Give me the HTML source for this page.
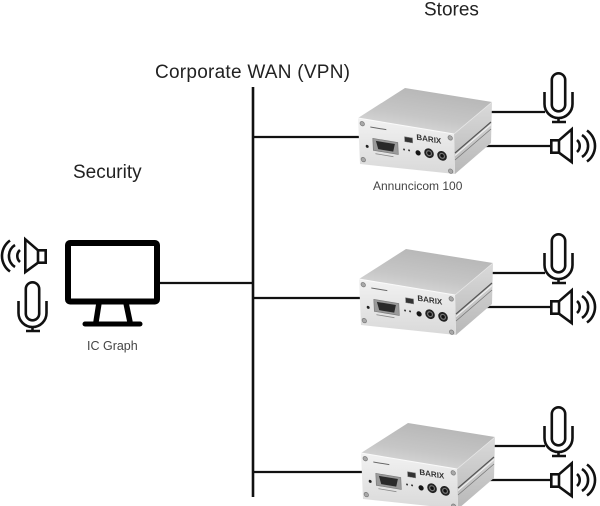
<!DOCTYPE html>
<html>
<head>
<meta charset="utf-8">
<style>
  html,body{margin:0;padding:0;background:#fff;}
  body{width:600px;height:506px;overflow:hidden;}
  svg{display:block;}
  text{font-family:"Liberation Sans",Arial,sans-serif;}
</style>
</head>
<body>
<svg width="600" height="506" viewBox="0 0 600 506" xmlns="http://www.w3.org/2000/svg">
  <defs>
    <linearGradient id="gTop" x1="0.7" y1="0" x2="0.25" y2="1">
      <stop offset="0" stop-color="#b4b4b4"/>
      <stop offset="0.6" stop-color="#c6c6c6"/>
      <stop offset="1" stop-color="#dcdcdc"/>
    </linearGradient>
    <linearGradient id="gSide" x1="0" y1="0" x2="0" y2="1">
      <stop offset="0" stop-color="#dadada"/>
      <stop offset="1" stop-color="#b8b8b8"/>
    </linearGradient>
    <linearGradient id="gFront" x1="0" y1="0" x2="0" y2="1">
      <stop offset="0" stop-color="#f2f2f2"/>
      <stop offset="1" stop-color="#d9d9d9"/>
    </linearGradient>

    <g id="mic" fill="none" stroke="#111" stroke-width="2.6">
      <rect x="551.8" y="73.3" width="13.4" height="38" rx="6.7"/>
      <path d="M544.5,92 V104 A14,14 0 0 0 572.5,104 V92"/>
      <path d="M558.5,118 V122 M552,122 H566"/>
    </g>

    <g id="spk" fill="none" stroke="#111" stroke-width="2.6">
      <rect x="551.3" y="140.3" width="7.7" height="12.4"/>
      <path d="M559,140.3 L571.7,129.3 V162 L559,152.7"/>
      <path d="M577,140 A8,8 0 0 1 577,152"/>
      <path d="M582,135 A13,13 0 0 1 582,157"/>
      <path d="M587,130.5 A19,19 0 0 1 587,161.5"/>
    </g>

    <g id="dev">
      <polygon points="358,118 405,88 492,102 454,134" fill="url(#gTop)"/>
      <polygon points="454,134 492,102 491,143 455,174" fill="url(#gSide)"/>
      <line x1="455" y1="153" x2="491" y2="122" stroke="#555" stroke-width="1.2"/>
      <line x1="455" y1="155.5" x2="491" y2="124.5" stroke="#f4f4f4" stroke-width="1"/>
      <line x1="455" y1="160" x2="491" y2="129" stroke="#777" stroke-width="0.8"/>
      <polygon points="358,118 454,134 455,174 360,164" fill="url(#gFront)"/>
      <line x1="358" y1="118" x2="454" y2="134" stroke="#fafafa" stroke-width="1"/>
      <line x1="454" y1="134" x2="492" y2="102" stroke="#e8e8e8" stroke-width="0.8"/>
      <g transform="matrix(1,0.167,0.044,1,358,118)">
        <circle cx="4" cy="5" r="2.2" fill="#a8a8a8" stroke="#777" stroke-width="0.7"/>
        <circle cx="92" cy="4.5" r="2.2" fill="#a8a8a8" stroke="#777" stroke-width="0.7"/>
        <circle cx="3.5" cy="41" r="2.2" fill="#a8a8a8" stroke="#777" stroke-width="0.7"/>
        <circle cx="91" cy="38" r="2.2" fill="#a8a8a8" stroke="#777" stroke-width="0.7"/>
        <line x1="12" y1="7" x2="28" y2="7" stroke="#666" stroke-width="1"/>
        <circle cx="8" cy="27" r="1.5" fill="#222"/>
        <rect x="14" y="18" width="25" height="12" fill="#9a9a9a" stroke="#777" stroke-width="0.6"/>
        <polygon points="17,20 36,20 34,28 19,28" fill="#2a2a2a"/>
        <line x1="16" y1="33" x2="34" y2="33" stroke="#888" stroke-width="0.8"/>
        <rect x="46" y="11" width="8" height="5" fill="#333" stroke="#888" stroke-width="0.5"/>
        <circle cx="45" cy="24" r="1" fill="#333"/>
        <circle cx="50" cy="24" r="1" fill="#333"/>
        <circle cx="59" cy="25" r="2.6" fill="#151515"/>
        <circle cx="70" cy="23.5" r="4.8" fill="#222"/>
        <circle cx="70" cy="23.5" r="3" fill="#777"/>
        <circle cx="70" cy="23.5" r="1.8" fill="#111"/>
        <circle cx="83" cy="24" r="4.8" fill="#222"/>
        <circle cx="83" cy="24" r="3" fill="#777"/>
        <circle cx="83" cy="24" r="1.8" fill="#111"/>
        <text x="58" y="12" font-size="8" font-weight="bold" fill="#333">BARIX</text>
      </g>
    </g>
  </defs>

  <!-- labels -->
  <text x="424" y="15.5" font-size="19" fill="#222">Stores</text>
  <text x="155" y="78" font-size="19" fill="#222" textLength="195" lengthAdjust="spacing">Corporate WAN (VPN)</text>
  <text x="73" y="178" font-size="19" fill="#222">Security</text>
  <text x="373" y="190" font-size="12" fill="#444">Annuncicom 100</text>
  <text x="87" y="350" font-size="12.5" fill="#444">IC Graph</text>

  <!-- bus -->
  <line x1="253" y1="87" x2="253" y2="497" stroke="#111" stroke-width="2.6"/>
  <line x1="158" y1="283" x2="253" y2="283" stroke="#111" stroke-width="2.2"/>
  <line x1="253" y1="137" x2="360" y2="137" stroke="#111" stroke-width="2.2"/>
  <line x1="253" y1="298" x2="362" y2="298" stroke="#111" stroke-width="2.2"/>
  <line x1="253" y1="472" x2="364" y2="472" stroke="#111" stroke-width="2.2"/>

  <!-- mic / speaker connection lines -->
  <g stroke="#111" stroke-width="2.2">
    <line x1="488" y1="112" x2="545" y2="112"/>
    <line x1="475" y1="146" x2="551" y2="146"/>
    <line x1="488" y1="273" x2="545" y2="273"/>
    <line x1="475" y1="307" x2="551" y2="307"/>
    <line x1="490" y1="446" x2="545" y2="446"/>
    <line x1="477" y1="480" x2="551" y2="480"/>
  </g>

  <!-- devices -->
  <use href="#dev"/>
  <use href="#dev" transform="translate(1,161)"/>
  <use href="#dev" transform="translate(3,335)"/>

  <!-- store icons -->
  <use href="#mic"/>
  <use href="#spk"/>
  <use href="#mic" transform="translate(0,161)"/>
  <use href="#spk" transform="translate(0,161)"/>
  <use href="#mic" transform="translate(0,334)"/>
  <use href="#spk" transform="translate(0,334)"/>

  <!-- security icons -->
  <use href="#spk" transform="translate(597,110) scale(-1,1)"/>
  <use href="#mic" transform="translate(-526,209)"/>

  <!-- monitor -->
  <rect x="68" y="243" width="89" height="58.5" rx="2" fill="#fff" stroke="#000" stroke-width="6"/>
  <g stroke="#000" stroke-width="5.5" fill="none">
    <line x1="99" y1="303" x2="96" y2="322"/>
    <line x1="126" y1="303" x2="130" y2="322"/>
  </g>
  <line x1="85" y1="324" x2="140" y2="324" stroke="#000" stroke-width="5" stroke-linecap="round"/>
</svg>
</body>
</html>
